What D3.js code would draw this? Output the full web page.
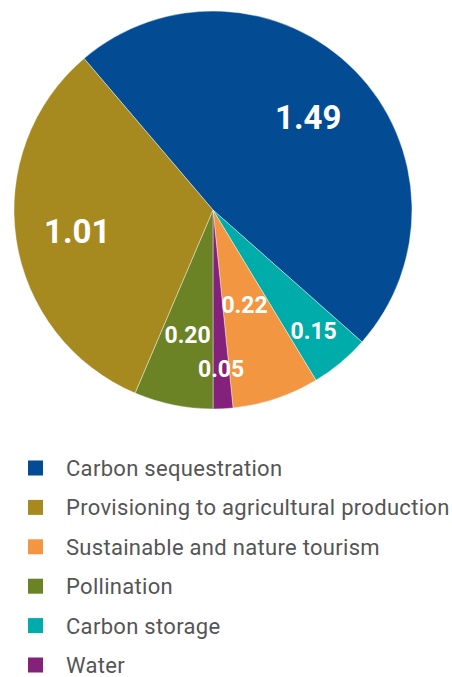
<!DOCTYPE html>
<html>
<head>
<meta charset="utf-8">
<script src="https://cdn.jsdelivr.net/npm/d3@7"></script>
<style>
  body { margin: 0; background: #fff; }
  svg { display: block; }
</style>
</head>
<body>
<svg width="452" height="677"></svg>
<script>
// slices in drawing order (clockwise from the top-left edge)
var services = ["Carbon sequestration", "Carbon storage", "Sustainable and nature tourism",
                "Water", "Pollination", "Provisioning to agricultural production"];
var values = [1.49, 0.15, 0.22, 0.05, 0.20, 1.01];
var labels = ["1.49", "0.15", "0.22", "0.05", "0.20", "1.01"];
var colors = ["#034c94", "#00aca9", "#f39641", "#84217b", "#6b8325", "#a78a1f"];

// legend order
var legendItems = ["Carbon sequestration", "Provisioning to agricultural production",
                   "Sustainable and nature tourism", "Pollination", "Carbon storage", "Water"];

var svg = d3.select("svg"),
    cx = 213, cy = 210, radius = 199;

var color = d3.scaleOrdinal().domain(services).range(colors);

// label radius as fraction of pie radius, and font size, per slice
var labelR = [0.67, 0.79, 0.5, 0.8, 0.64, 0.69];
var labelSize = [33, 23, 23, 23, 23, 33];

var pie = d3.pie()
    .sort(null)
    .value(function(d) { return d.value; })
    .startAngle(-40.4 * Math.PI / 180)
    .endAngle(2 * Math.PI - 40.4 * Math.PI / 180);

var data = services.map(function(s, i) {
  return {name: s, value: values[i], label: labels[i], i: i};
});

var arc = d3.arc().innerRadius(0).outerRadius(radius);

var g = svg.append("g").attr("transform", "translate(" + cx + "," + cy + ")");

var arcs = pie(data);

g.selectAll("path")
  .data(arcs)
  .enter().append("path")
    .attr("d", arc)
    .attr("fill", function(d) { return color(d.data.name); })
    .attr("stroke", "#fff")
    .attr("stroke-width", 0.4);

g.selectAll("text")
  .data(arcs)
  .enter().append("text")
    .attr("transform", function(d) {
      var r = radius * labelR[d.data.i];
      var a = (d.startAngle + d.endAngle) / 2;
      return "translate(" + (r * Math.sin(a)) + "," + (-r * Math.cos(a)) + ")";
    })
    .attr("dy", "0.36em")
    .attr("text-anchor", "middle")
    .attr("fill", "#fff")
    .style("font-family", "Roboto, sans-serif")
    .style("font-weight", "bold")
    .style("font-size", function(d) { return labelSize[d.data.i] + "px"; })
    .text(function(d) { return d.data.label; });

// legend
var y = d3.scalePoint()
    .domain(legendItems)
    .range([468, 665]);

var legend = svg.append("g").selectAll("g")
  .data(legendItems)
  .enter().append("g")
    .attr("transform", function(d) { return "translate(28," + y(d) + ")"; });

legend.append("rect")
    .attr("x", 0)
    .attr("y", -7.5)
    .attr("width", 15)
    .attr("height", 15)
    .attr("fill", function(d) { return color(d); });

legend.append("text")
    .attr("x", 38)
    .attr("y", 8)
    .attr("fill", "#555555")
    .style("font-family", "Roboto, sans-serif")
    .style("font-size", "22px")
    .style("letter-spacing", "0.3px")
    .text(function(d) { return d; });
</script>
</body>
</html>
